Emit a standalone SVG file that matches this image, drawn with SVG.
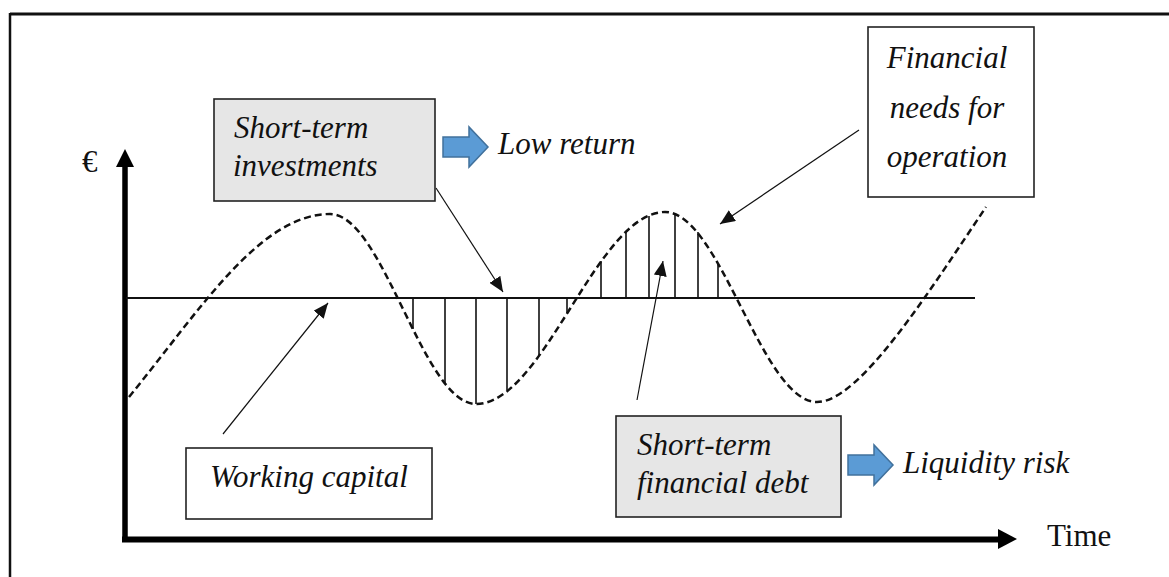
<svg xmlns="http://www.w3.org/2000/svg" width="1169" height="577" viewBox="0 0 1169 577">
<style>
.box{stroke:#222;stroke-width:1.6}
.white{fill:#fff}
.gray{fill:#e6e6e6}
.lbl{font-family:"Liberation Serif",serif;font-style:italic;font-size:31px;fill:#111}
.reg{font-family:"Liberation Serif",serif;font-size:31px;fill:#111}
.conn{stroke:#111;stroke-width:1.2;fill:none}
.hatch{stroke:#111;stroke-width:1.6}
.blue{fill:#5b9bd5;stroke:#41719c;stroke-width:1.5}
</style>
<defs>
<marker id="ah" markerUnits="userSpaceOnUse" markerWidth="15" markerHeight="13" refX="15" refY="6.5" orient="auto">
<path d="M0,0 L15,6.5 L0,13 z" fill="#111"/>
</marker>
</defs>
<rect width="1169" height="577" fill="#fff"/>
<g id="frame">
<line x1="10" y1="14" x2="1169" y2="14" stroke="#111" stroke-width="3"/>
<line x1="10" y1="13" x2="10" y2="577" stroke="#111" stroke-width="2.5"/>
</g>
<g id="axes">
<line x1="125" y1="165" x2="125" y2="542" stroke="#000" stroke-width="5.5"/>
<polygon points="125,149 134,167 116,167" fill="#000"/>
<line x1="122" y1="539.5" x2="1000" y2="539.5" stroke="#000" stroke-width="6"/>
<polygon points="1017,539 998,529 998,549" fill="#000"/>
<text class="reg" x="82" y="172" font-size="29">€</text>
<text class="reg" x="1047" y="546">Time</text>
</g>
<g id="baseline">
<line x1="126" y1="298" x2="975" y2="298" stroke="#111" stroke-width="2"/>
</g>
<g id="hatching">
<line class="hatch" x1="413" y1="298" x2="413" y2="329"/>
<line class="hatch" x1="445" y1="298" x2="445" y2="384"/>
<line class="hatch" x1="476" y1="298" x2="476" y2="404"/>
<line class="hatch" x1="507" y1="298" x2="507" y2="390"/>
<line class="hatch" x1="539" y1="298" x2="539" y2="355"/>
<line class="hatch" x1="567" y1="298" x2="567" y2="313"/>
<line class="hatch" x1="601" y1="298" x2="601" y2="261"/>
<line class="hatch" x1="626" y1="298" x2="626" y2="232"/>
<line class="hatch" x1="649" y1="298" x2="649" y2="216"/>
<line class="hatch" x1="675" y1="298" x2="675" y2="214" stroke="#555"/>
<line class="hatch" x1="698" y1="298" x2="698" y2="232"/>
<line class="hatch" x1="718" y1="298" x2="718" y2="263"/>
</g>
<g id="curve">
<path d="M129,397 C200,310 260,214 330,214 C383,214 423,404 476,404 C544,404 597,212 665,212 C720,212 762,402 817,402 C860,402 930,290 986,207" fill="none" stroke="#111" stroke-width="2.5" stroke-dasharray="7 4"/>
</g>
<g id="connectors">
<line class="conn" x1="436" y1="188" x2="503" y2="292" marker-end="url(#ah)"/>
<line class="conn" x1="859" y1="130" x2="720" y2="224" marker-end="url(#ah)"/>
<line class="conn" x1="223" y1="434" x2="328" y2="303" marker-end="url(#ah)"/>
<line class="conn" x1="637" y1="400" x2="663" y2="261" marker-end="url(#ah)"/>
</g>
<g id="short-term-investments">
<rect class="box gray" x="214" y="99" width="221" height="102"/>
<text class="lbl" x="234" y="138">Short-term</text>
<text class="lbl" x="233" y="176">investments</text>
</g>
<g id="low-return">
<polygon class="blue" points="443,137 469,137 469,127 488,147 469,167 469,157 443,157"/>
<text class="lbl" x="498" y="154">Low return</text>
</g>
<g id="financial-needs">
<rect class="box white" x="868" y="27" width="166" height="170"/>
<text class="lbl" x="947" y="68" text-anchor="middle">Financial</text>
<text class="lbl" x="947" y="118" text-anchor="middle">needs for</text>
<text class="lbl" x="947" y="167" text-anchor="middle">operation</text>
</g>
<g id="working-capital">
<rect class="box white" x="186" y="448" width="246" height="71"/>
<text class="lbl" x="210" y="487">Working capital</text>
</g>
<g id="short-term-debt">
<rect class="box gray" x="616" y="416" width="225" height="101"/>
<text class="lbl" x="637" y="455">Short-term</text>
<text class="lbl" x="637" y="493">financial debt</text>
</g>
<g id="liquidity-risk">
<polygon class="blue" points="848,455 874,455 874,445 893,465 874,485 874,475 848,475"/>
<text class="lbl" x="903" y="473">Liquidity risk</text>
</g>
</svg>
